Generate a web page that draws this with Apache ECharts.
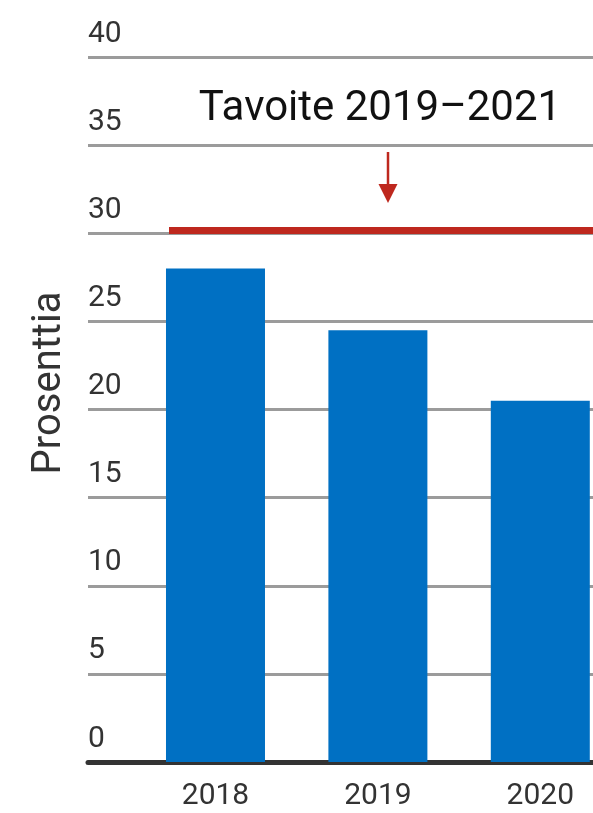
<!DOCTYPE html>
<html>
<head>
<meta charset="utf-8">
<style>
  html, body { margin: 0; padding: 0; background: #fff; }
  #chart { width: 593px; height: 813px; }
</style>
<script src="https://cdn.jsdelivr.net/npm/echarts@6/dist/echarts.min.js"></script>
</head>
<body>
<div id="chart"></div>
<script>
const categories = ['2018', '2019', '2020'];
const shares = [28, 24.5, 20.5];
const target = 30;
const yMin = 0, yMax = 40, yStep = 5;
const axisTitle = 'Prosenttia';
const targetLabel = 'Tavoite 2019\u20132021';

const FONT = 'Roboto';
const years = categories.map(Number);
const barData = years.map((y, i) => [y, shares[i]]);

const chart = echarts.init(document.getElementById('chart'), null, { renderer: 'canvas' });

chart.setOption({
  animation: false,
  textStyle: { fontFamily: FONT },
  grid: [
    { left: 88, right: 0, top: 57, bottom: 51 },   // axes, gridlines and bars
    { left: 169, right: 0, top: 54, bottom: 54 }   // target line
  ],
  xAxis: [
    { gridIndex: 0, type: 'value', min: 2017.215, max: 2020.3245,
      axisLine: { show: true, onZero: false, lineStyle: { color: '#333', width: 5 } },
      axisTick: { show: false }, splitLine: { show: false },
      axisLabel: { customValues: years, formatter: v => String(Math.round(v)),
                   color: '#333', fontSize: 30, fontFamily: FONT, margin: 19, lineHeight: 30 } },
    { gridIndex: 1, type: 'value', min: 0, max: 1, show: false }
  ],
  yAxis: [
    { gridIndex: 0, type: 'value', min: yMin, max: yMax, interval: yStep,
      axisLine: { show: false }, axisTick: { show: false },
      splitLine: { show: true, lineStyle: { color: '#9b9b9b', width: 3 } },
      axisLabel: { inside: true, margin: 0, align: 'left', verticalAlign: 'bottom',
                   color: '#333', fontSize: 30, lineHeight: 30, padding: [0, 0, 8, 0], fontFamily: FONT } },
    { gridIndex: 1, type: 'value', min: yMin, max: yMax, show: false, splitLine: { show: false } }
  ],
  series: [
    { type: 'bar', xAxisIndex: 0, yAxisIndex: 0, data: barData, barWidth: 99,
      itemStyle: { color: '#0070c3' }, z: 3 },
    { type: 'line', xAxisIndex: 1, yAxisIndex: 1, data: [], silent: true,
      markLine: { silent: true, symbol: ['none', 'none'], label: { show: false },
        lineStyle: { color: '#be281e', width: 7, type: 'solid' },
        data: [{ yAxis: target }] }, z: 4 }
  ],
  graphic: [
    { type: 'text', x: 50, y: 383, rotation: Math.PI / 2,
      style: { text: axisTitle, fill: '#333', font: '40px ' + FONT, textAlign: 'center', textVerticalAlign: 'middle' } },
    { type: 'text', x: 380, y: 109,
      style: { text: targetLabel, fill: '#111', font: '42px ' + FONT, textAlign: 'center', textVerticalAlign: 'middle' } },
    { type: 'line', shape: { x1: 388, y1: 152, x2: 388, y2: 188 },
      style: { stroke: '#be281e', lineWidth: 2.5 } },
    { type: 'polygon', shape: { points: [[378.5, 184], [397.5, 184], [388, 203]] },
      style: { fill: '#be281e' } }
  ]
});
</script>
</body>
</html>
